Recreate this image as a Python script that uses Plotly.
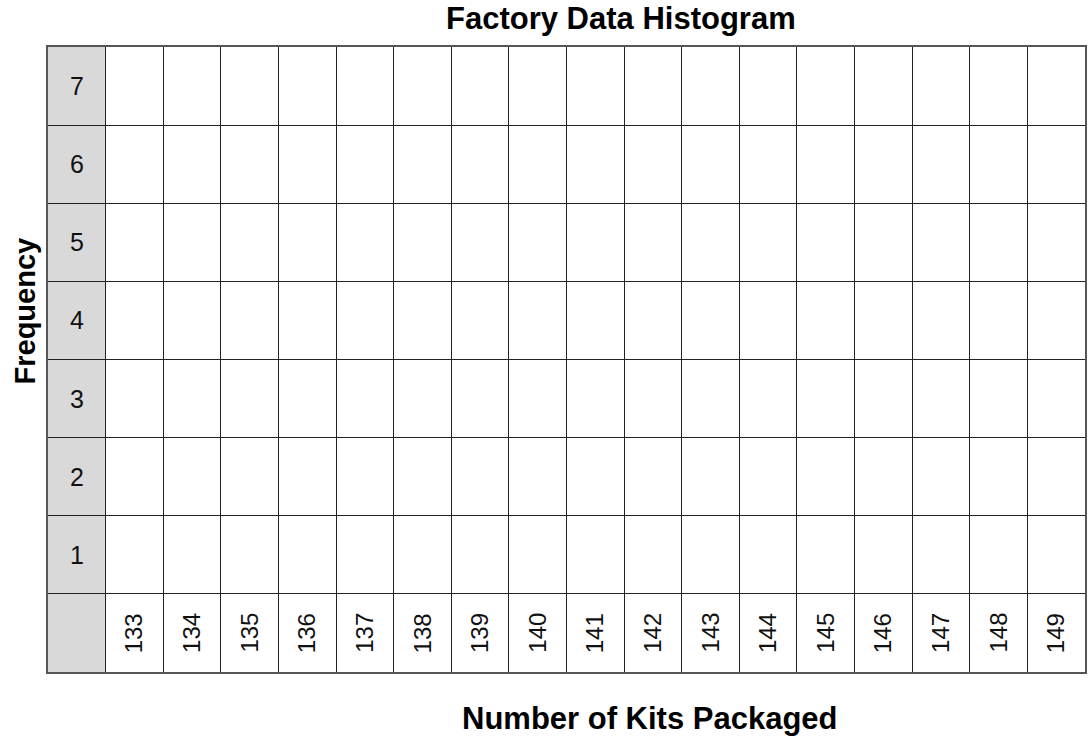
import plotly.graph_objects as go

# ---- data ----
frequencies = [1, 2, 3, 4, 5, 6, 7]
kits = [133, 134, 135, 136, 137, 138, 139, 140, 141, 142, 143, 144, 145, 146, 147, 148, 149]
title_text = "Factory Data Histogram"
x_title = "Number of Kits Packaged"
y_title = "Frequency"

n_cols = len(kits) + 1
n_rows = len(frequencies) + 1

W, H = 1089, 736
ML, MR, MT, MB = 48, 2, 47, 64
PW = W - ML - MR
PH = H - MT - MB
FAM = "Liberation Sans, Arial, sans-serif"

fig = go.Figure()

# invisible trace so axes are active
fig.add_trace(go.Scatter(x=[0, n_cols], y=[0, n_rows], mode="markers",
                         marker=dict(opacity=0), hoverinfo="skip", showlegend=False))

# gray label column (frequency labels)
fig.add_shape(type="rect", xref="x", yref="y", x0=0, x1=1, y0=0, y1=n_rows,
              fillcolor="#d9d9d9", line=dict(width=0), layer="below")

annotations = []
for f in frequencies:
    annotations.append(dict(x=0.5, y=f + 0.5, xref="x", yref="y", text=str(f),
                            showarrow=False, font=dict(size=25, color="#111", family=FAM)))
for i, k in enumerate(kits):
    annotations.append(dict(x=i + 1.5, y=0.5, xref="x", yref="y", text=str(k),
                            textangle=-90, showarrow=False,
                            font=dict(size=24, color="#111", family=FAM)))

bold = dict(size=31, color="#000", family=FAM)
annotations.append(dict(x=(621.7 - ML) / PW, y=1, xref="paper", yref="paper",
                        yanchor="middle", yshift=MT - 18, text="<b>" + title_text + "</b>",
                        showarrow=False, font=bold))
annotations.append(dict(x=(651.5 - ML) / PW, y=0, xref="paper", yref="paper",
                        yanchor="middle", yshift=-(718 - (H - MB)), text="<b>" + x_title + "</b>",
                        showarrow=False, font=bold))
annotations.append(dict(x=0, y=(H - MB - 311.5) / PH, xref="paper", yref="paper",
                        xanchor="center", xshift=-(ML - 24), textangle=-90,
                        text="<b>" + y_title + "</b>", showarrow=False,
                        font=dict(size=29, color="#000", family=FAM)))

axis_common = dict(showgrid=True, gridcolor="#222", gridwidth=1.2, dtick=1, tick0=0,
                   showticklabels=False, ticks="", zeroline=False, showline=True,
                   linecolor="#555", linewidth=2, mirror=True, fixedrange=True)

fig.update_layout(
    width=W, height=H,
    margin=dict(l=ML, r=MR, t=MT, b=MB, pad=0),
    paper_bgcolor="white", plot_bgcolor="white",
    xaxis=dict(range=[0, n_cols], **axis_common),
    yaxis=dict(range=[0, n_rows], **axis_common),
    annotations=annotations,
    showlegend=False,
)

fig.write_html("out.html", config={"displayModeBar": False},
               post_script="document.body.style.margin='0';")
